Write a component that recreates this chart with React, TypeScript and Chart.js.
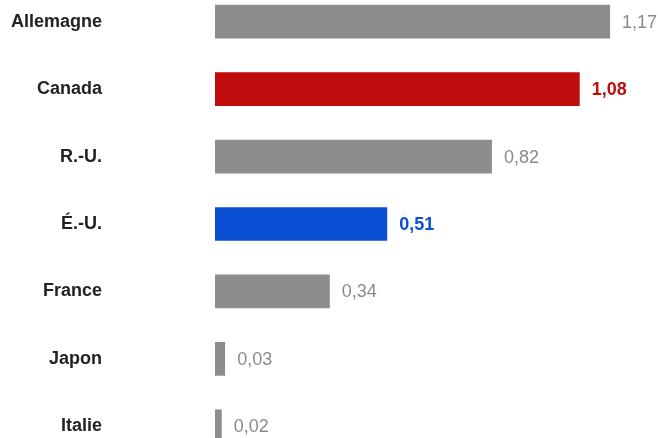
import React, { useEffect, useRef } from "react";
import { Chart, registerables } from "chart.js";

Chart.register(...registerables);

const categories = ["Allemagne", "Canada", "R.-U.", "É.-U.", "France", "Japon", "Italie"];
const values = [1.17, 1.08, 0.82, 0.51, 0.34, 0.03, 0.02];
const valueLabels = ["1,17", "1,08", "0,82", "0,51", "0,34", "0,03", "0,02"];
const barColors = ["#8d8d8d", "#c00c0c", "#8d8d8d", "#0a4fd4", "#8d8d8d", "#8d8d8d", "#8d8d8d"];
const labelColors = ["#8a8a8a", "#c00c0c", "#8a8a8a", "#0a4fd4", "#8a8a8a", "#8a8a8a", "#8a8a8a"];
const labelBold = [false, true, false, true, false, false, false];

const valueLabelPlugin = {
  id: "valueLabels",
  afterDatasetsDraw(chart: any) {
    const ctx = chart.ctx;
    const meta = chart.getDatasetMeta(0);
    ctx.save();
    ctx.textBaseline = "middle";
    ctx.textAlign = "left";
    meta.data.forEach((el: any, i: number) => {
      ctx.font = labelBold[i]
        ? "bold 18px 'Liberation Sans', Arial, sans-serif"
        : "18px 'Liberation Sans', Arial, sans-serif";
      ctx.fillStyle = labelColors[i];
      ctx.fillText(valueLabels[i], el.x + 12, el.y + 1);
    });
    ctx.restore();
  },
};

export default function App() {
  const ref = useRef<HTMLCanvasElement>(null);
  useEffect(() => {
    if (!ref.current) return;
    const chart = new Chart(ref.current, {
      type: "bar",
      data: {
        labels: categories,
        datasets: [
          {
            data: values,
            backgroundColor: barColors,
            borderWidth: 0,
            barPercentage: 0.5,
            categoryPercentage: 1,
          },
        ],
      },
      options: {
        indexAxis: "y",
        animation: false,
        responsive: false,
        maintainAspectRatio: false,
        devicePixelRatio: 1,
        layout: { padding: { right: 4, top: 0, bottom: 0, left: 0 } },
        plugins: { legend: { display: false }, tooltip: { enabled: false } },
        scales: {
          x: { display: false, min: 0, max: 1.3 },
          y: {
            grid: { display: false, drawTicks: false },
            border: { display: false },
            ticks: {
              padding: 113,
              color: "#222222",
              font: { family: "'Liberation Sans', Arial, sans-serif", size: 18, weight: "bold" },
            },
            afterFit(scale: any) {
              scale.width = 215;
              scale.paddingTop = 0;
              scale.paddingBottom = 0;
            },
          },
        },
      },
      plugins: [valueLabelPlugin],
    });
    return () => chart.destroy();
  }, []);
  return (
    <div style={{ position: "fixed", left: 0, top: -12, width: 658, height: 472, background: "#fff" }}>
      <canvas ref={ref} width={658} height={472} style={{ display: "block", width: 658, height: 472 }} />
    </div>
  );
}
